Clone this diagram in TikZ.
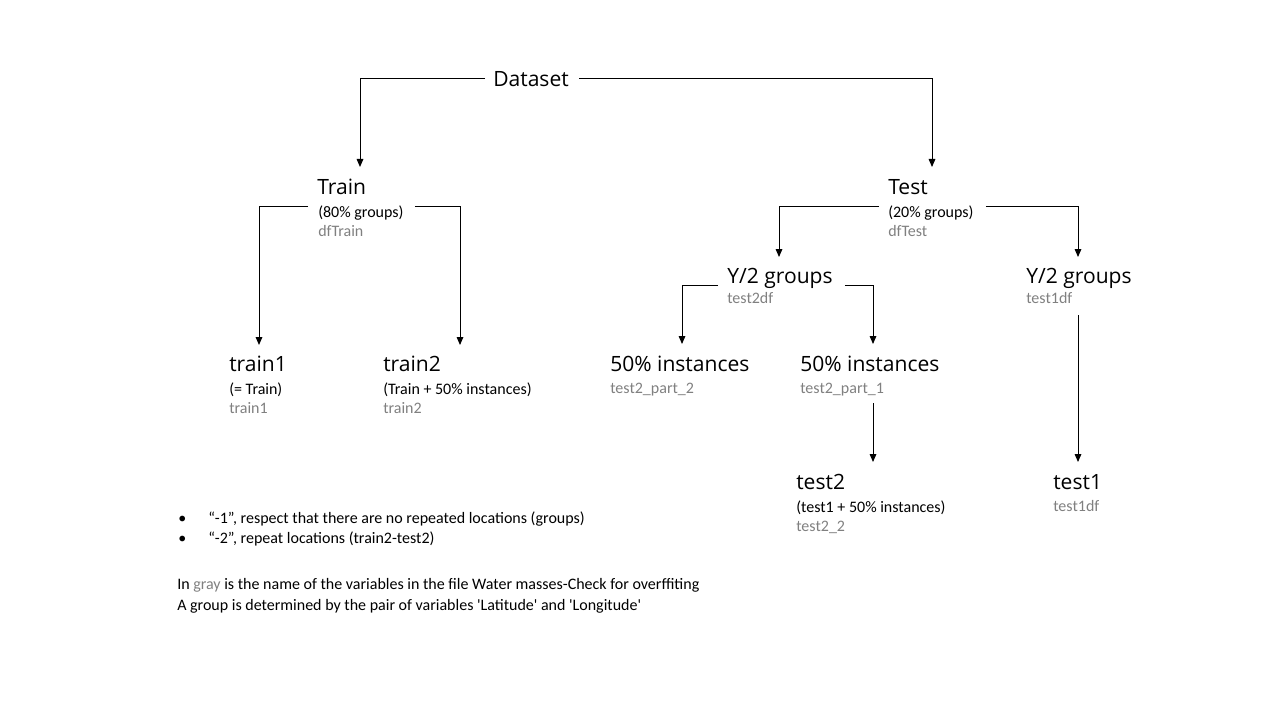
\documentclass[tikz,border=0pt]{standalone}
\usepackage{fontspec}
\newfontfamily\bodyfont{Carlito}
\newfontfamily\titlefont{Open Sans}
\usetikzlibrary{arrows.meta,calc}
\definecolor{vargray}{HTML}{808080}
\begin{document}
\begin{tikzpicture}[x=0.75pt,y=-0.75pt,
 title/.style={anchor=base west,inner sep=0pt,font=\titlefont\fontsize{15.8}{18}\selectfont},
 sub/.style={anchor=base west,inner sep=0pt,font=\bodyfont\fontsize{12}{14}\selectfont},
 var/.style={sub,text=vargray},
 conn/.style={line width=0.75pt,-{Triangle[length=6pt,width=5pt]}}]
\useasboundingbox (0,0) rectangle (1280,720);

\node[title] (ds) at (493,87) {Dataset};
\node[title] (tr) at (317,195) {Train};
\node[sub] (trs) at (318,218) {(80\% groups)};
\node[var] (trv) at (318,237) {dfTrain};
\node[title] (te) at (888,195) {Test};
\node[sub] (tes) at (888,218) {(20\% groups)};
\node[var] (tev) at (888,237) {dfTest};
\node[title] (t1) at (229,371) {train1};
\node[sub] (t1s) at (229,394) {(= Train)};
\node[var] (t1v) at (229,413) {train1};
\node[title] (t2) at (383,371) {train2};
\node[sub] (t2s) at (383,394) {(Train + 50\% instances)};
\node[var] (t2v) at (383,413) {train2};
\node[title] (ya) at (727,283) {Y/2 groups};
\node[var] (yav) at (727,303) {test2df};
\node[title] (yb) at (1026,283) {Y/2 groups};
\node[var] (ybv) at (1026,303) {test1df};
\node[title] (pa) at (610,371) {50\% instances};
\node[var] (pav) at (610,393) {test2\_part\_2};
\node[title] (pb) at (800,371) {50\% instances};
\node[var] (pbv) at (800,393) {test2\_part\_1};
\node[title] (s2) at (796,489) {test2};
\node[sub] (s2s) at (796,512) {(test1 + 50\% instances)};
\node[var] (s2v) at (796,531) {test2\_2};
\node[title] (s1) at (1053,489) {test1};
\node[var] (s1v) at (1053,511) {test1df};

\coordinate (trin) at (360,167);
\coordinate (tein) at (932,167);
\coordinate (t1in) at (259,345);
\coordinate (t2in) at (460,345);
\coordinate (yain) at (779,257);
\coordinate (ybin) at (1078,257);
\coordinate (pain) at (682,344);
\coordinate (pbin) at (873,344);
\coordinate (s1in) at (1078,462);
\coordinate (s2in) at (873,462);

\draw[conn] ($(ds.base west)+(-8,-8)$) -| (trin);
\draw[conn] ($(ds.base east)+(10,-8)$) -| (tein);
\draw[conn] ($(trs.base west)+(-10,-11)$) -| (t1in);
\draw[conn] ($(trs.base east)+(11,-11)$) -| (t2in);
\draw[conn] ($(tes.base west)+(-9,-11)$) -| (yain);
\draw[conn] ($(tes.base east)+(12,-11)$) -| (ybin);
\draw[conn] ($(ya.base west)+(-9,2)$) -| (pain);
\draw[conn] ($(ya.base east)+(12,2)$) -| (pbin);
\draw[conn] ($(ybv.base west)+(52,12)$) -- (s1in);
\draw[conn] ($(pbv.base west)+(73,10)$) -- (s2in);

\node[sub] (b1d) at (178,523) {•};
\node[sub] (b1) at (208,523) {“-1”, respect that there are no repeated locations (groups)};
\node[sub] (b2d) at (178,543) {•};
\node[sub] (b2) at (208,543) {“-2”, repeat locations (train2-test2)};
\node[sub] (n1) at (177,589) {In \textcolor{vargray}{gray} is the name of the variables in the file Water masses-Check for overffiting};
\node[sub] (n2) at (177,610) {A group is determined by the pair of variables 'Latitude' and 'Longitude'};
\end{tikzpicture}
\end{document}
